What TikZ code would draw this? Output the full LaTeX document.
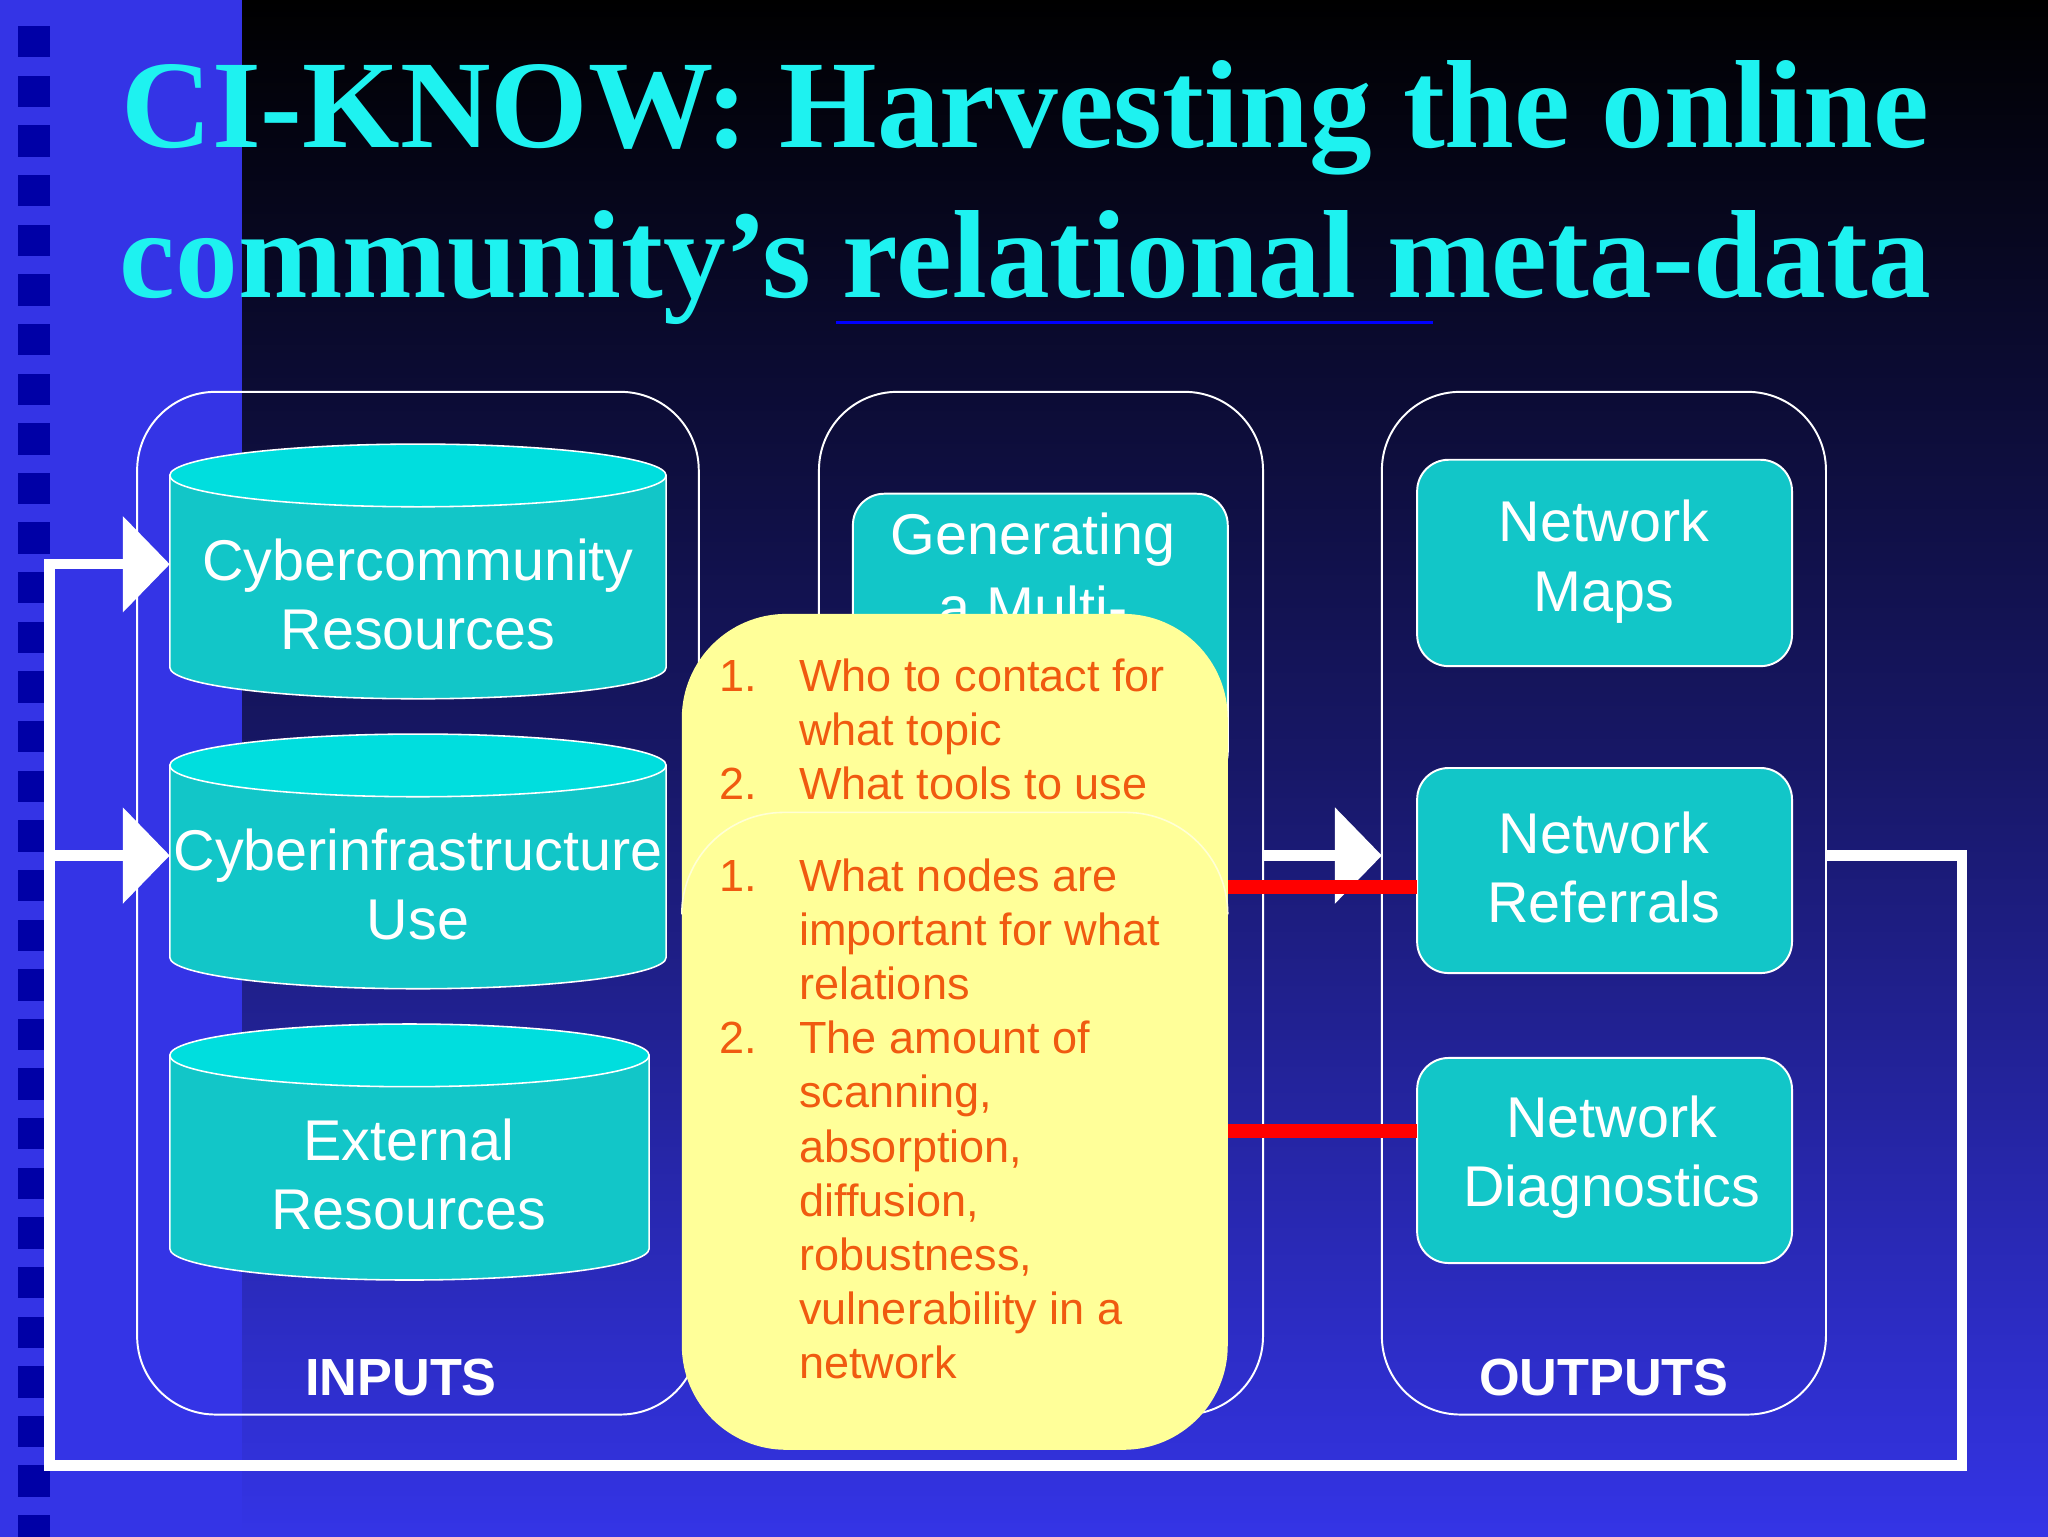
\documentclass[tikz,border=0pt]{standalone}
\usepackage{fontspec}
\setmainfont{Liberation Sans}
\newfontfamily\titlefont{Liberation Serif}
\usetikzlibrary{arrows.meta,shapes.geometric}
\definecolor{cyantitle}{HTML}{1EF2F0}
\definecolor{teal1}{HTML}{12C6C8}
\definecolor{teal2}{HTML}{00DEDE}
\definecolor{bgblue}{HTML}{3434E6}
\definecolor{yel}{HTML}{FFFF99}
\definecolor{org}{HTML}{F05A10}
\tikzset{
 panel/.style={draw=white,line width=1.5pt,rounded corners=60},
 rbox/.style={draw=white,line width=1.5pt,fill=teal1,rounded corners=24},
 btxt/.style={text=white,font=\fontsize{44}{53}\selectfont,align=center},
 lst/.style={text=org,font=\fontsize{34.5}{41.5}\selectfont,align=left,anchor=north west,inner sep=0},
 flow/.style={white,line width=8},
 warr/.style={-{Triangle[length=36,width=72]},white,line width=8},
 redl/.style={red,line width=11},
 lbl/.style={text=white,font=\bfseries\fontsize{40}{44}\selectfont},
 ttl/.style={text=cyantitle,font=\titlefont\bfseries\fontsize{96}{110}\selectfont},
}
\newcommand{\cyl}[5]{% x1 x2 ytop ybot name
 \fill[teal1,draw=white,line width=1.2pt] (#1,#3) -- (#1,#4) arc[start angle=180,end angle=0,x radius={(#2-#1)/2},y radius=24] -- (#2,#3) -- cycle;
 \fill[teal2,draw=white,line width=1.2pt] ({(#1+#2)/2},#3) ellipse[x radius={(#2-#1)/2},y radius=24];
 \coordinate (#5) at ({(#1+#2)/2},{(#3+#4)/2+12});
}
\begin{document}
\begin{tikzpicture}[x=1pt,y=-1pt]
\useasboundingbox (0,0) rectangle (1568,1176);
\shade[top color=black,bottom color=bgblue,middle color=black!55!bgblue] (0,0) rectangle (1568,1176);
\fill[bgblue] (0,0) rectangle (185,1176);
\foreach \i in {0,...,30} \fill[blue!65!black] (14,{20+\i*38}) rectangle (38,{44+\i*38});
% title
\node[ttl] (t1) at (785,90) {CI-KNOW: Harvesting the online};
\node[ttl] (t2) at (785,205) {community’s relational meta-data};
\draw[blue,line width=2] (640,247) -- (1097,247);
% panels
\draw[panel] (105,300) rectangle (535,1083);
\draw[panel] (627,300) rectangle (967,1083);
\draw[panel] (1058,300) rectangle (1398,1083);
% cylinders
\cyl{130}{510}{364}{511}{c1}
\cyl{130}{510}{586}{733}{c2}
\cyl{130}{497}{808}{956}{c3}
\node[btxt] (ct1) at (320,455) {Cybercommunity\\Resources};
\node[btxt] (ct2) at (320,677) {Cyberinfrastructure\\Use};
\node[btxt] (ct3) at (313,899) {External\\Resources};
\node[lbl] (inp) at (307,1055) {INPUTS};
\node[lbl] (outp) at (1228,1055) {OUTPUTS};
% middle box
\draw[rbox] (653,378) rectangle (940,600);
\node[btxt] (gen) at (791,413) {Generating};
\node[btxt] (gen2) at (791,465) {a Multi-};
% right boxes
\draw[rbox] (1085,352) rectangle (1372,510);
\node[btxt] (o1) at (1228,430) {Network\\Maps};
\draw[rbox] (1085,588) rectangle (1372,745);
\node[btxt] (o2) at (1228,664) {Network\\Referrals};
\draw[rbox] (1085,810) rectangle (1372,967);
\node[btxt] (o3) at (1234,886) {Network\\Diagnostics};
\coordinate (o2a) at (1085,679); \coordinate (o3a) at (1085,866);
% arrows
\coordinate (m) at (967,655); \coordinate (ri) at (1058,655);
\draw[warr] (m) -- (ri);
\coordinate (a) at (1398,655); \coordinate (b) at (1502,655); \coordinate (c) at (1502,1122);
\coordinate (d) at (38,1122); \coordinate (e) at (38,432); \coordinate (f) at (130,432); \coordinate (g) at (38,655); \coordinate (h) at (130,655);
\draw[flow,line join=miter] (a) -- (b) -- (c) -- (d) -- (e);
\draw[warr] (34,432) -- (f);
\draw[warr] (g) -- (h);
% yellow
\fill[yel,rounded corners=80] (522,470) rectangle (940,1110);
\draw[white!60!yel,line width=1.2pt] (522,700) arc[start angle=180,end angle=270,radius=78] -- (862,622) arc[start angle=270,end angle=360,radius=78];
\coordinate (y1) at (940,679); \coordinate (y2) at (940,866);
\draw[redl] (y1) -- (o2a);
\draw[redl] (y2) -- (o3a);
\node[lst] (l1) at (551,500) {\begin{tabular}{@{}l@{\hspace{32pt}}l@{}}1.&Who to contact for\\&what topic\\2.&What tools to use\end{tabular}};
\node[lst] (l2) at (551,653) {\begin{tabular}{@{}l@{\hspace{32pt}}l@{}}1.&What nodes are\\&important for what\\&relations\\2.&The amount of\\&scanning,\\&absorption,\\&diffusion,\\&robustness,\\&vulnerability in a\\&network\end{tabular}};
\end{tikzpicture}
\end{document}
